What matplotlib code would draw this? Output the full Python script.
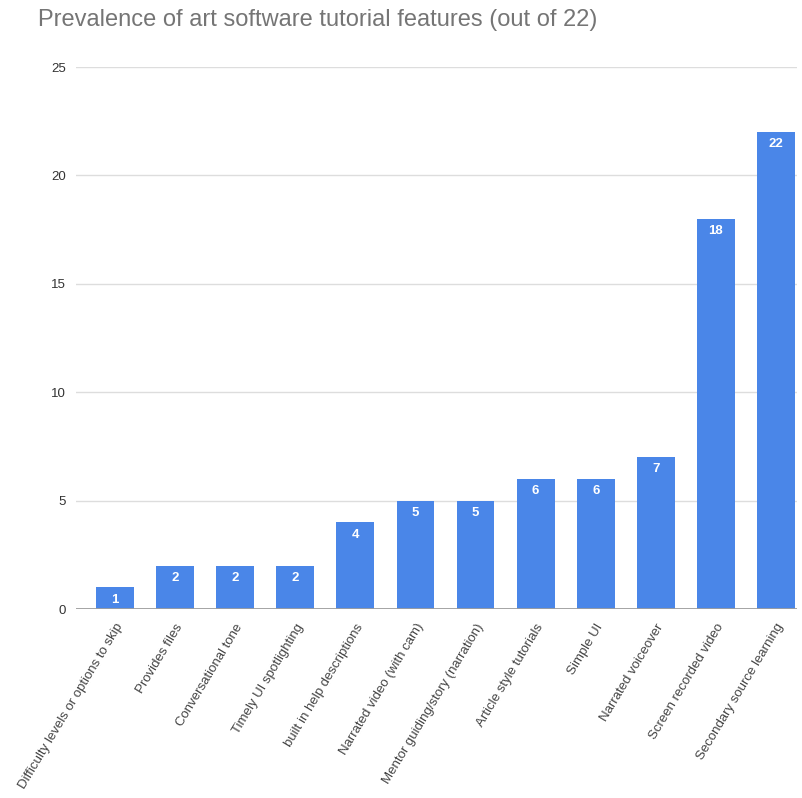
import matplotlib.pyplot as plt

# Tutorial features and how many of the 22 tutorials showed each one
features = [
    "Difficulty levels or options to skip",
    "Provides files",
    "Conversational tone",
    "Timely UI spotlighting",
    "built in help descriptions",
    "Narrated video (with cam)",
    "Mentor guiding/story (narration)",
    "Article style tutorials",
    "Simple UI",
    "Narrated voiceover",
    "Screen recorded video",
    "Secondary source learning",
]
counts = [1, 2, 2, 2, 4, 5, 5, 6, 6, 7, 18, 22]
y_ticks = [0, 5, 10, 15, 20, 25]

plt.rcParams["font.family"] = ["Liberation Sans", "DejaVu Sans"]

fig = plt.figure(figsize=(8.03, 7.98), dpi=100)
ax = fig.add_axes([76 / 803, 189 / 798, 721 / 803, 542 / 798])

bar_color = "#4a86e8"
x = range(len(features))
ax.bar(x, counts, width=0.63, color=bar_color, zorder=3)

# value labels sit just inside the top of each bar
for i, v in zip(x, counts):
    ax.annotate(str(v), xy=(i, v), xytext=(0, -4.5), textcoords="offset points",
                ha="center", va="top", color="white", fontsize=9.5,
                fontweight="bold", zorder=4)

ax.set_xlim(-0.65, len(features) - 0.65)
ax.set_ylim(0, 25)
ax.set_yticks(y_ticks)
ax.set_yticklabels([str(t) for t in y_ticks])
ax.yaxis.grid(True, color="#dddddd", linewidth=1, zorder=0)
ax.axhline(0, color="#9e9e9e", linewidth=1.3, zorder=5)

ax.set_xticks(list(x))
ax.set_xticklabels(features, rotation=59, ha="right", rotation_mode="anchor",
                   fontsize=9.5, color="#444444")
ax.tick_params(axis="x", length=0, pad=9)
ax.tick_params(axis="y", length=0, pad=7, labelsize=9.5, labelcolor="#333333")

for side in ["top", "right", "left", "bottom"]:
    ax.spines[side].set_visible(False)

fig.text(38 / 803, 1 - 20 / 798, "Prevalence of art software tutorial features (out of 22)",
         fontsize=17, color="#757575", ha="left", va="center")

fig.savefig("out.png", dpi=100)
